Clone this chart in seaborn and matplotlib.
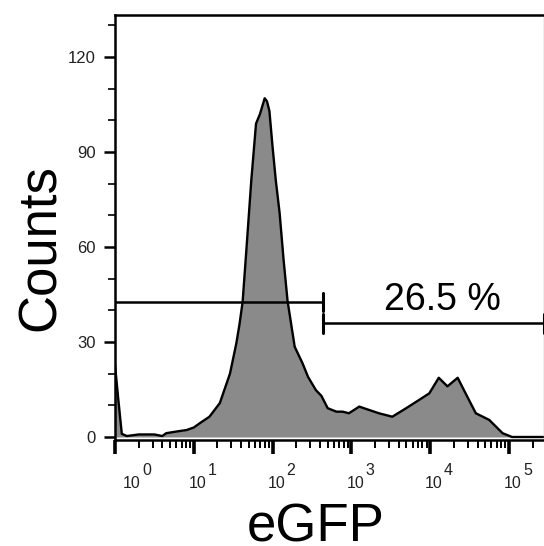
import numpy as np
import pandas as pd
import matplotlib
matplotlib.use("Agg")
import matplotlib.pyplot as plt
import seaborn as sns
from matplotlib.ticker import LogLocator, NullFormatter, FixedLocator

# ---- data ----
egfp = [1.0, 1.10, 1.22, 1.41, 2.0, 3.16, 3.98, 4.47, 6.31, 8.13, 10.0, 12.0, 15.8,
        21.4, 28.8, 34.7, 38.0, 41.7, 46.8, 53.7, 58.9, 61.7, 69.2, 79.4, 85.1, 91.2,
        100, 110, 123, 138, 155, 191, 240, 282, 355, 417, 501, 646, 776, 933, 1259,
        1698, 2239, 3311, 4898, 7244, 9772, 12882, 16596, 22387, 28184, 38019, 56234,
        83176, 109648, 275000]
counts = [22.7, 12, 1.0, 0.3, 0.8, 0.8, 0.3, 1.2, 1.8, 2.2, 3.0, 4.4, 6.4,
          10.7, 20, 29.6, 35.5, 42.7, 60, 81, 93, 99, 102, 107, 106, 103,
          91.7, 81, 70.7, 56, 43, 28.5, 23.3, 19, 14.8, 13, 9.1, 8, 8, 7.5, 9.6,
          8.5, 7.5, 6.4, 9, 11.7, 13.8, 18.7, 16, 18.7, 13.8, 7.5, 5.4,
          1.2, 0, 0]

gate_neg_x = [1.0, 443]
gate_neg_y = 42.6
gate_pos_x = [443, 275000]
gate_pos_y = 36.0
gate_label = "26.5 %"

ytick_major = [0, 30, 60, 90, 120]
ytick_minor = [10, 20, 40, 50, 70, 80, 100, 110, 130]
x_exponents = ["0", "1", "2", "3", "4", "5"]
x_decades = [1, 10, 100, 1000, 10000, 100000]

xlabel = "eGFP"
ylabel = "Counts"

# ---- figure ----
sns.set_style("ticks")
plt.rcParams["font.family"] = ["Liberation Sans", "DejaVu Sans"]

fig = plt.figure(figsize=(5.44, 5.46), dpi=100)
W, H = 544, 546
ax = fig.add_axes([115 / W, 1 - 440 / H, 428.5 / W, 425 / H])

df = pd.DataFrame({"eGFP": egfp, "Counts": counts})
ax.fill_between(df["eGFP"], df["Counts"], 0, color="#8a8a8a", linewidth=0, zorder=1)
sns.lineplot(data=df, x="eGFP", y="Counts", ax=ax, color="black", linewidth=1.7,
             sort=False, estimator=None, zorder=2)

ax.set_xscale("log")
ax.set_xlim(1.0, 275000)
ax.set_ylim(-0.95, 133.3)

# gates
gdf1 = pd.DataFrame({"x": gate_neg_x, "y": [gate_neg_y] * 2})
gdf2 = pd.DataFrame({"x": gate_pos_x, "y": [gate_pos_y] * 2})
sns.lineplot(data=gdf1, x="x", y="y", ax=ax, color="black", linewidth=1.8,
             estimator=None, zorder=3)
sns.lineplot(data=gdf2, x="x", y="y", ax=ax, color="black", linewidth=1.8,
             estimator=None, zorder=3)
ax.plot([gate_neg_x[1]] * 2, [gate_neg_y - 2.8, gate_neg_y + 2.8], color="black", lw=2.2, zorder=3)
for gx in gate_pos_x:
    ax.plot([gx] * 2, [gate_pos_y - 3.0, gate_pos_y + 3.0], color="black", lw=2.2, zorder=3,
            clip_on=False)
ax.text(0.764, 0.306, gate_label, transform=ax.transAxes, ha="center", va="baseline",
        fontsize=27, color="black")

# spines
for s in ["top", "left", "bottom"]:
    ax.spines[s].set_color("black")
    ax.spines[s].set_linewidth(1.8)
ax.spines["right"].set_color("#b0b0b0")
ax.spines["right"].set_linewidth(1.0)

# y ticks
ax.yaxis.set_major_locator(FixedLocator(ytick_major))
ax.yaxis.set_minor_locator(FixedLocator(ytick_minor))
ax.set_yticklabels([str(v) for v in ytick_major])
ax.tick_params(axis="y", which="major", direction="out", length=8, width=1.8,
               labelsize=12, pad=6, colors="black", labelcolor="#222222")
ax.tick_params(axis="y", which="minor", direction="out", length=5, width=1.2, colors="black")

# x ticks
ax.xaxis.set_major_locator(FixedLocator(x_decades))
ax.xaxis.set_minor_locator(LogLocator(base=10, subs=np.arange(2, 10), numticks=20))
ax.xaxis.set_major_formatter(NullFormatter())
ax.xaxis.set_minor_formatter(NullFormatter())
ax.tick_params(axis="x", which="major", direction="out", length=10, width=2.6, colors="black")
ax.tick_params(axis="x", which="minor", direction="out", length=6, width=1.4, colors="black")

for i, (dec, ex) in enumerate(zip(x_decades, x_exponents)):
    dx = 8 if i == 0 else -5
    ax.annotate("10", xy=(dec, 0), xycoords=("data", "axes fraction"),
                xytext=(dx, -48), textcoords="offset pixels", ha="left", va="baseline",
                fontsize=11.5, color="#222222", annotation_clip=False)
    ax.annotate(ex, xy=(dec, 0), xycoords=("data", "axes fraction"),
                xytext=(dx + 19, -35), textcoords="offset pixels", ha="left", va="baseline",
                fontsize=11.5, color="#222222", annotation_clip=False)

ax.set_xlabel("")
ax.set_ylabel("")
fig.text(316 / W, 1 - 541 / H, xlabel, ha="center", va="baseline", fontsize=38, color="black")
fig.text(41 / W, 1 - 248 / H, ylabel, ha="center", va="center", rotation=90, fontsize=38,
         color="black")

fig.savefig("out.png", dpi=100)
